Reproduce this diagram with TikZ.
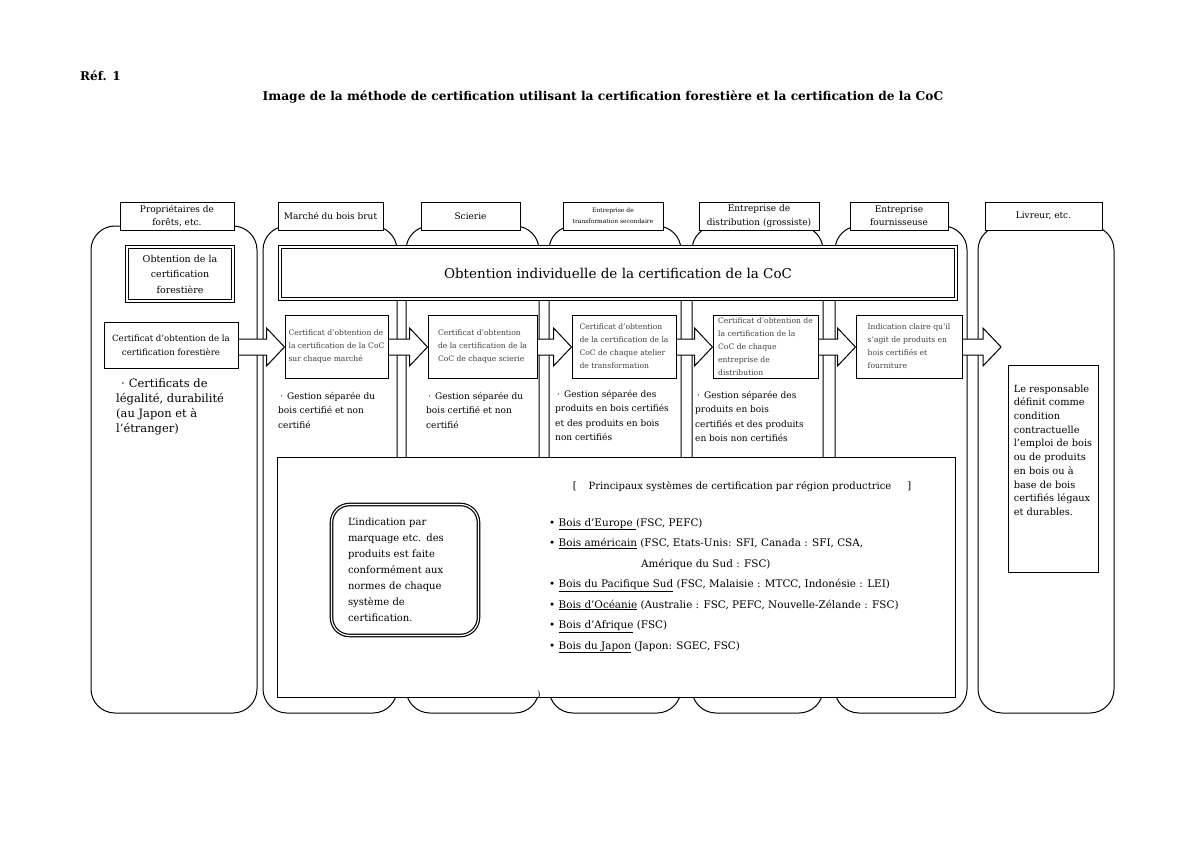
\documentclass[tikz,border=0pt]{standalone}
\usepackage{fontspec}
\setmainfont{DejaVu Serif}
\usetikzlibrary{calc}
\pgfdeclarelayer{columns}
\pgfdeclarelayer{arrows}
\pgfsetlayers{columns,arrows,main}

\begin{document}
\begin{tikzpicture}[x=1pt,y=-1pt,
  column/.style={draw, line width=1pt, rounded corners=24pt},
  header/.style={draw, fill=white, line width=1pt, minimum height=28pt, inner sep=1pt, align=center, font=\fontsize{9}{13.5}\selectfont},
  certbox/.style={draw, fill=white, line width=1pt, minimum height=63pt, inner sep=2pt, align=left, text=black!75, font=\fontsize{7.6}{13}\selectfont},
  note/.style={anchor=north west, inner sep=0pt, align=left, font=\fontsize{9}{14.3}\selectfont},
  arrowbody/.style={draw, fill=white, line width=1pt}
]
    \newcommand{\passArrow}[2]{
        \draw[arrowbody] (#1.east |- 0,339) -- ($(#2 |- 0,339)+(-18,0)$) -- ($(#2 |- 0,328)+(-18,0)$)
          -- (#2 |- 0,347) -- ($(#2 |- 0,366)+(-18,0)$) -- ($(#2 |- 0,355)+(-18,0)$) -- (#1.east |- 0,355);
    }
\useasboundingbox (0,0) rectangle (1200,848);

\node[anchor=west, inner sep=0pt, font=\bfseries\fontsize{12}{14}\selectfont] (refLabel) at (80,76) {Réf. 1};
\node[inner sep=0pt, font=\bfseries\fontsize{12.2}{16}\selectfont] (mainTitle) at (603,97)
  {Image de la méthode de certification utilisant la certification forestière et la certification de la CoC};

\begin{pgfonlayer}{columns}
\foreach \l/\r in {91/257,263/397,406/539,549/681,692/823,835/967,978/1114}
  \draw[column] (\l,226) rectangle (\r,713);
\end{pgfonlayer}

% stages
\node[header, minimum width=114pt] (hdOwners) at (177,216) {Propriétaires de\\forêts, etc.};
\node[header, minimum width=105pt] (hdMarket) at (330.5,216) {Marché du bois brut};
\node[header, minimum width=99pt] (hdSawmill) at (470.5,216) {Scierie};
\node[header, minimum width=100pt, font=\fontsize{6}{11}\selectfont] (hdSecond) at (613,216) {Entreprise de\\transformation secondaire};
\node[header, minimum width=120pt] (hdWholesale) at (759,216) {Entreprise de\\distribution (grossiste)};
\node[header, minimum width=98pt] (hdSupplier) at (899,216) {Entreprise\\fournisseuse};
\node[header, minimum width=117pt] (hdDelivery) at (1043.5,216) {Livreur, etc.};

\node[draw, fill=white, double, double distance=1.5pt, line width=1.4pt, minimum width=106pt, minimum height=54pt,
  align=center, font=\fontsize{9.5}{15.5}\selectfont] (forestObt) at (180,274) {Obtention de la\\certification\\forestière};
\node[draw, fill=white, double, double distance=1.8pt, line width=1.2pt, minimum width=676pt, minimum height=52pt,
  font=\fontsize{13.5}{18}\selectfont] (cocObt) at (618,273) {Obtention individuelle de la certification de la CoC};

% certificates
\node[draw, fill=white, line width=1pt, minimum width=134pt, minimum height=46pt, align=center,
  font=\fontsize{8.6}{14}\selectfont] (certForest) at (171,345) {Certificat d'obtention de la\\certification forestière};
\node[certbox, minimum width=103pt] (certMarket) at (336.5,346.5) {Certificat d'obtention de\\la certification de la CoC\\sur chaque marché};
\node[certbox, minimum width=109pt] (certSawmill) at (482.5,346.5) {Certificat d'obtention\\de la certification de la\\CoC de chaque scierie};
\node[certbox, minimum width=104pt] (certSecond) at (624,346.5) {Certificat d'obtention\\de la certification de la\\CoC de chaque atelier\\de transformation};
\node[certbox, minimum width=105pt] (certWholesale) at (765.5,346.5) {Certificat d'obtention de\\la certification de la\\CoC de chaque\\entreprise de\\distribution};
\node[certbox, minimum width=106pt] (certSupplier) at (909,346.5) {Indication claire qu'il\\s'agit de produits en\\bois certifiés et\\fourniture};
\coordinate (tipDelivery) at (1001,347);

\begin{pgfonlayer}{arrows}
\passArrow{certForest}{certMarket.west}
\passArrow{certMarket}{certSawmill.west}
\passArrow{certSawmill}{certSecond.west}
\passArrow{certSecond}{certWholesale.west}
\passArrow{certWholesale}{certSupplier.west}
\passArrow{certSupplier}{tipDelivery}
\end{pgfonlayer}

\node[note, font=\fontsize{11.5}{15}\selectfont] (noteForest) at (116,379) {\hspace*{5pt}·\hspace*{4pt}Certificats de\\légalité, durabilité\\(au Japon et à\\l'étranger)};
\node[note] (gestMarket) at (278,392) {\hspace*{2pt}·\hspace*{4pt}Gestion séparée du\\bois certifié et non\\certifié};
\node[note] (gestSawmill) at (426,392) {\hspace*{2pt}·\hspace*{4pt}Gestion séparée du\\bois certifié et non\\certifié};
\node[note] (gestSecond) at (555,390) {\hspace*{2pt}·\hspace*{4pt}Gestion séparée des\\produits en bois certifiés\\et des produits en bois\\non certifiés};
\node[note] (gestWholesale) at (695,391) {\hspace*{2pt}·\hspace*{4pt}Gestion séparée des\\produits en bois\\certifiés et des produits\\en bois non certifiés};

\node[draw, fill=white, line width=1pt, minimum width=90pt, minimum height=207pt] (respDelivery) at (1053,468.5) {};
\node[anchor=north, inner sep=0pt, align=left, font=\fontsize{9.8}{13.7}\selectfont] (respText) at ([yshift=-20pt]respDelivery.north)
  {Le responsable\\définit comme\\condition\\contractuelle\\l'emploi de bois\\ou de produits\\en bois ou à\\base de bois\\certifiés légaux\\et durables.};

% certification systems
\node[draw, fill=white, line width=1pt, minimum width=678pt, minimum height=240pt] (regionPanel) at (616,577) {};
\node[draw, fill=white, double, double distance=1.2pt, line width=1.2pt, rounded corners=18pt, minimum width=147pt,
  minimum height=131pt, text width=114pt, align=left, font=\fontsize{10}{16}\selectfont] (marking) at (405,570)
  {L'indication par\\marquage etc. des\\produits est faite\\conformément aux\\normes de chaque\\système de\\certification.};
\node[font=\fontsize{10}{12}\selectfont] (regionTitle) at (742,487)
  {[\hspace{12pt}Principaux systèmes de certification par région productrice\hspace{16pt}]};
\node[anchor=north west, inner sep=0pt, align=left, font=\fontsize{10.4}{20.5}\selectfont] (regionList) at (549,518)
  {\textbullet\ \underline{Bois d'Europe }(FSC, PEFC)\\
   \textbullet\ \underline{Bois américain} (FSC, Etats-Unis: SFI, Canada : SFI, CSA,\\
   \hspace*{92pt}Amérique du Sud : FSC)\\
   \textbullet\ \underline{Bois du Pacifique Sud} (FSC, Malaisie : MTCC, Indonésie : LEI)\\
   \textbullet\ \underline{Bois d'Océanie} (Australie : FSC, PEFC, Nouvelle-Zélande : FSC)\\
   \textbullet\ \underline{Bois d'Afrique} (FSC)\\
   \textbullet\ \underline{Bois du Japon} (Japon: SGEC, FSC)};
\node[inner sep=0pt, font=\fontsize{9}{9}\selectfont] (strayParen) at (539,695) {)};

\end{tikzpicture}
\end{document}
